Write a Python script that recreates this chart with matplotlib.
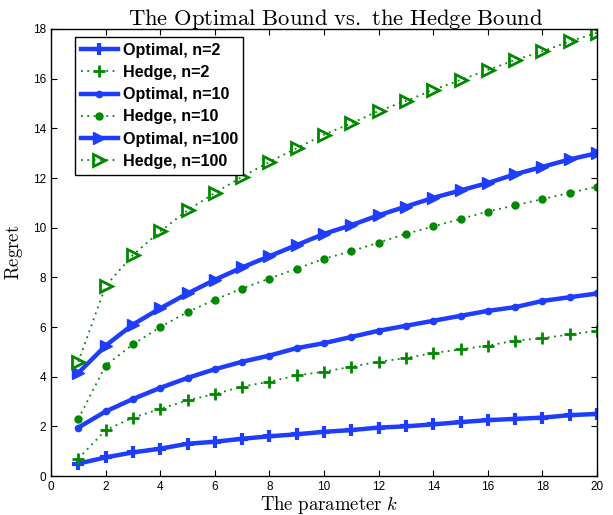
import numpy as np
import matplotlib
matplotlib.use("Agg")
import matplotlib.pyplot as plt

plt.rcParams['mathtext.fontset'] = 'cm'
plt.rcParams['font.family'] = ['Liberation Sans', 'DejaVu Sans']

k = np.arange(1, 21)

opt_n2 = [0.5, 0.75, 0.95, 1.1, 1.3, 1.38, 1.5, 1.6, 1.68, 1.78,
          1.85, 1.95, 2.0, 2.08, 2.17, 2.25, 2.3, 2.35, 2.45, 2.5]
hedge_n2 = [0.7, 1.85, 2.35, 2.7, 3.05, 3.3, 3.6, 3.8, 4.05, 4.2,
            4.4, 4.6, 4.75, 4.95, 5.1, 5.25, 5.45, 5.55, 5.7, 5.85]
opt_n10 = [1.95, 2.6, 3.1, 3.55, 3.95, 4.3, 4.6, 4.85, 5.15, 5.35,
           5.6, 5.85, 6.05, 6.25, 6.45, 6.65, 6.8, 7.05, 7.2, 7.35]
hedge_n10 = [2.3, 4.45, 5.3, 6.0, 6.6, 7.1, 7.55, 7.95, 8.35, 8.75,
             9.05, 9.4, 9.75, 10.05, 10.35, 10.65, 10.9, 11.15, 11.4, 11.65]
opt_n100 = [4.15, 5.25, 6.1, 6.75, 7.35, 7.9, 8.4, 8.85, 9.3, 9.75,
            10.1, 10.5, 10.85, 11.2, 11.5, 11.8, 12.15, 12.45, 12.75, 13.0]
hedge_n100 = [4.6, 7.65, 8.9, 9.85, 10.7, 11.4, 12.05, 12.65, 13.2, 13.75,
              14.2, 14.7, 15.1, 15.55, 15.95, 16.35, 16.75, 17.1, 17.5, 17.85]

blue = '#1f3dff'
green = '#008800'

fig = plt.figure(figsize=(6.13, 5.15), dpi=100)
ax = fig.add_axes([0.0832, 0.0757, 0.8908, 0.868])

opt_kw = dict(color=blue, lw=3.2, ls='-')
hedge_kw = dict(color=green, lw=1.3, ls=(0, (1, 2.5)))

ax.plot(k, opt_n2, marker='+', ms=9, mew=3, label='Optimal, n=2', **opt_kw)
ax.plot(k, hedge_n2, marker='+', ms=9, mew=2, label='Hedge, n=2', **hedge_kw)
ax.plot(k, opt_n10, marker='o', ms=4.5, label='Optimal, n=10', **opt_kw)
ax.plot(k, hedge_n10, marker='o', ms=5, mec=green, label='Hedge, n=10', **hedge_kw)
ax.plot(k, opt_n100, marker='>', ms=8, label='Optimal, n=100', **opt_kw)
ax.plot(k, hedge_n100, marker='>', ms=9, mfc='none', mew=2, mec=green,
        label='Hedge, n=100', **hedge_kw)

ax.set_xlim(0, 20)
ax.set_ylim(0, 18)
ax.set_xticks(range(0, 21, 2))
ax.set_yticks(range(0, 19, 2))
ax.tick_params(direction='in', top=True, right=True, labelsize=8.5, length=4)
for s in ax.spines.values():
    s.set_linewidth(1.0)

ax.set_title(r'$\mathrm{The\ Optimal\ Bound\ vs.\ the\ Hedge\ Bound}$',
             fontsize=16.3, pad=3, x=0.522)
ax.set_xlabel(r'$\mathrm{The\ parameter}\ k$', fontsize=13.5, labelpad=1,
              x=0.51)
ax.set_ylabel(r'$\mathrm{Regret}$', fontsize=13.5, labelpad=6)

leg = ax.legend(loc='upper left', bbox_to_anchor=(0.044, 0.982), numpoints=1,
                prop={'weight': 'bold', 'size': 11.6}, fancybox=False,
                framealpha=1, edgecolor='black', handlelength=2.3,
                borderpad=0.35, labelspacing=0.45, handletextpad=0.3,
                borderaxespad=0)
leg.get_frame().set_linewidth(1.0)

fig.savefig('out.png', dpi=100)
